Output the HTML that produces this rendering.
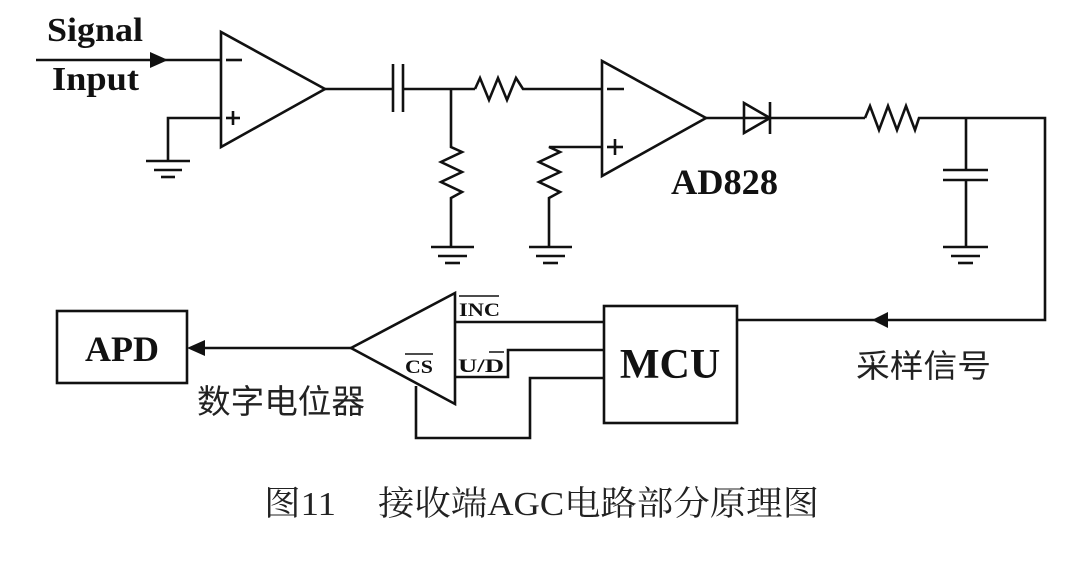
<!DOCTYPE html>
<html><head><meta charset="utf-8"><style>
html,body{margin:0;padding:0;background:#fff;width:1080px;height:563px;overflow:hidden}
svg{display:block}
.b{font-family:"Liberation Serif",serif;font-weight:bold;fill:#111}
.c{font-family:"Liberation Sans","Noto Sans CJK SC",sans-serif;fill:#222}
</style></head><body>
<svg width="1080" height="563" viewBox="0 0 1080 563" xmlns="http://www.w3.org/2000/svg">
<g fill="none" stroke="#111" stroke-width="2.6" stroke-linejoin="miter">
<line x1="36" y1="60" x2="221" y2="60"/>
<polygon points="221,32 221,147 325,89"/>
<line x1="226" y1="60" x2="242" y2="60"/>
<line x1="226" y1="118" x2="240" y2="118"/><line x1="233" y1="111" x2="233" y2="125"/>
<polyline points="221,118 168,118 168,161"/>
<line x1="146" y1="161" x2="190" y2="161"/><line x1="154" y1="170" x2="182" y2="170"/><line x1="161" y1="177" x2="175" y2="177"/>
<line x1="325" y1="89" x2="393" y2="89"/>
<line x1="393" y1="64" x2="393" y2="112"/><line x1="403" y1="64" x2="403" y2="112"/>
<line x1="403" y1="89" x2="475" y2="89"/>
<polyline points="475,89 480,78 489,100 498,78 507,100 516,78 523,89 602,89"/>
<polyline points="451,89 451,147 462,152 441,162 462,172 441,182 462,192 451,198 451,247"/>
<line x1="431" y1="247" x2="474" y2="247"/><line x1="438" y1="256" x2="467" y2="256"/><line x1="445" y1="263" x2="460" y2="263"/>
<polygon points="602,61 602,176 706,118"/>
<line x1="607" y1="89" x2="624" y2="89"/>
<line x1="607" y1="147" x2="623" y2="147"/><line x1="615" y1="139" x2="615" y2="155"/>
<polyline points="602,147 549,147 560,152 539,162 560,172 539,182 560,192 549,198 549,247"/>
<line x1="529" y1="247" x2="572" y2="247"/><line x1="536" y1="256" x2="565" y2="256"/><line x1="543" y1="263" x2="558" y2="263"/>
<line x1="706" y1="118" x2="865" y2="118"/>
<polygon points="744,103 744,133 770,118"/>
<line x1="770" y1="102" x2="770" y2="134"/>
<polyline points="865,118 870,106 879,130 888,106 897,130 906,106 915,130 919,118 1045,118 1045,320 737,320"/>
<line x1="966" y1="118" x2="966" y2="170"/>
<line x1="943" y1="170" x2="988" y2="170"/><line x1="943" y1="180" x2="988" y2="180"/>
<line x1="966" y1="180" x2="966" y2="247"/>
<line x1="943" y1="247" x2="988" y2="247"/><line x1="951" y1="256" x2="980" y2="256"/><line x1="958" y1="263" x2="973" y2="263"/>
<rect x="57" y="311" width="130" height="72"/>
<line x1="200" y1="348" x2="351" y2="348"/>
<polygon points="351,348 455,293 455,404"/>
<line x1="455" y1="322" x2="604" y2="322"/>
<polyline points="455,377 508,377 508,350 604,350"/>
<polyline points="416,386 416,438 530,438 530,378 604,378"/>
<rect x="604" y="306" width="133" height="117"/>
</g>
<g fill="#111">
<polygon points="150,52 150,68 168,60"/>
<polygon points="187,348 205,340 205,356"/>
<polygon points="872,320 888,312 888,328"/>
</g>
<text class="b" x="47" y="41" font-size="34" textLength="96" lengthAdjust="spacingAndGlyphs">Signal</text>
<text class="b" x="52" y="90" font-size="34" textLength="87" lengthAdjust="spacingAndGlyphs">Input</text>
<text class="b" x="671" y="194" font-size="36" textLength="107" lengthAdjust="spacingAndGlyphs">AD828</text>
<text class="b" x="122" y="361" font-size="36" text-anchor="middle">APD</text>
<text class="b" x="670" y="378" font-size="42" text-anchor="middle">MCU</text>
<text class="b" x="459" y="316" font-size="19" textLength="41" lengthAdjust="spacingAndGlyphs">INC</text>
<line x1="459" y1="296" x2="499" y2="296" stroke="#111" stroke-width="1.5"/>
<text class="b" x="458" y="372" font-size="19" textLength="46" lengthAdjust="spacingAndGlyphs">U/D</text>
<line x1="489" y1="352" x2="504" y2="352" stroke="#111" stroke-width="1.5"/>
<text class="b" x="405" y="373" font-size="19" textLength="28" lengthAdjust="spacingAndGlyphs">CS</text>
<line x1="405" y1="354" x2="433" y2="354" stroke="#111" stroke-width="1.5"/>
<text class="c" x="856" y="377" font-size="32" textLength="135" lengthAdjust="spacingAndGlyphs">采样信号</text>
<text class="c" x="197" y="413" font-size="33" textLength="168" lengthAdjust="spacingAndGlyphs">数字电位器</text>
<text x="264" y="515" font-size="34" font-family="'Liberation Serif','Noto Serif CJK SC',serif" fill="#222" textLength="72" lengthAdjust="spacingAndGlyphs">图11</text>
<text x="378" y="515" font-size="34" font-family="'Liberation Serif','Noto Serif CJK SC',serif" fill="#222" textLength="441" lengthAdjust="spacingAndGlyphs">接收端AGC电路部分原理图</text>
</svg>
</body></html>
